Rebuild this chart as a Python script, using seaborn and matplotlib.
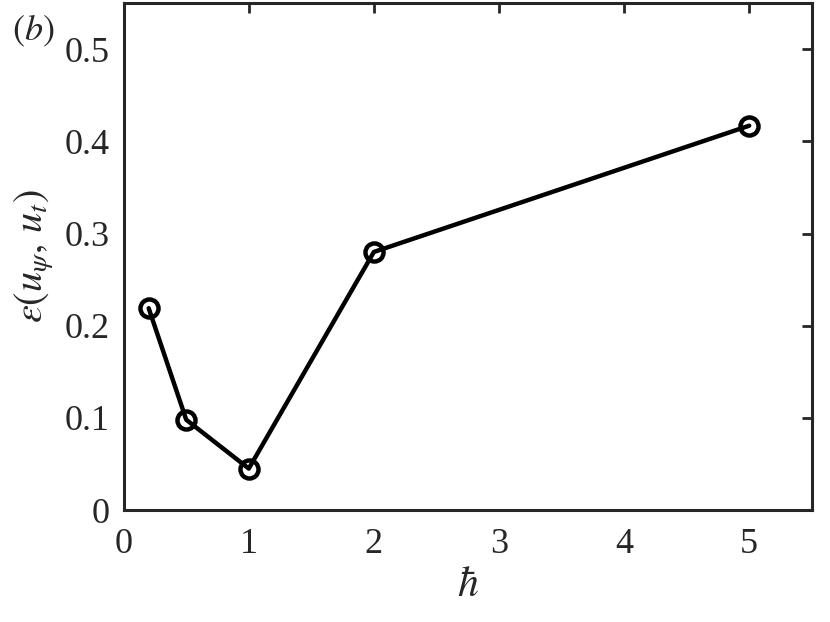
import matplotlib
matplotlib.use("Agg")
import matplotlib.pyplot as plt
import seaborn as sns
import pandas as pd

hbar = [0.2, 0.5, 1, 2, 5]
err = [0.219, 0.098, 0.045, 0.280, 0.417]
xticks = [0, 1, 2, 3, 4, 5]
yticks = [0, 0.1, 0.2, 0.3, 0.4, 0.5]
ytick_labels = ["0", "0.1", "0.2", "0.3", "0.4", "0.5"]

sns.set_theme(style="white")
plt.rcParams['font.family'] = ['Liberation Serif', 'DejaVu Serif']
plt.rcParams['mathtext.fontset'] = 'stix'

df = pd.DataFrame({"hbar": hbar, "err": err})

fig = plt.figure(figsize=(8.3, 6.22), dpi=100)
ax = fig.add_axes([0.149, 0.180, 0.829, 0.815])
sns.lineplot(data=df, x="hbar", y="err", ax=ax, color="black", linewidth=3.2,
             marker="o", markersize=13, markerfacecolor="none",
             markeredgecolor="black", markeredgewidth=3.2)

ax.set_xlim(0, 5.5)
ax.set_ylim(0, 0.55)
ax.set_xticks(xticks)
ax.set_xticklabels([str(t) for t in xticks])
ax.set_yticks(yticks)
ax.set_yticklabels(ytick_labels)
ax.tick_params(axis='both', direction='in', length=7, width=2, colors='#262626',
               labelsize=26, labelcolor='#262626', top=True, right=True)
ax.tick_params(axis='x', pad=13)
ax.tick_params(axis='y', pad=10)
for s in ax.spines.values():
    s.set_color('#262626')
    s.set_linewidth(2.2)
    s.set_visible(True)

ax.set_xlabel(r'$\hbar$', fontsize=30, color='#262626', labelpad=4)
ax.set_ylabel(r'$\varepsilon(u_\psi,\, u_t)$', fontsize=29, color='#262626', labelpad=6)
fig.text(0.014, 0.935, r'$(b)$', fontsize=26, color='#262626')

fig.savefig("out.png", dpi=100)
